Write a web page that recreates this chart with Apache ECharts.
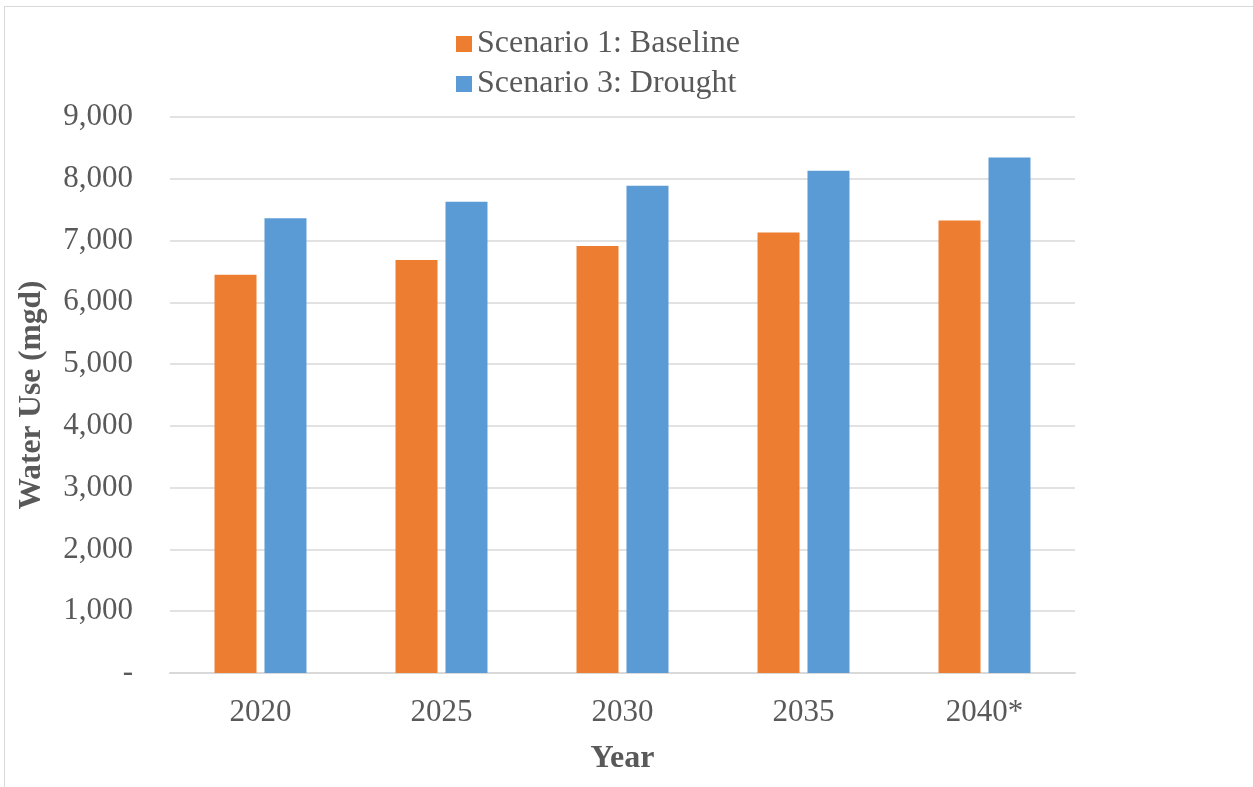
<!DOCTYPE html>
<html><head><meta charset="utf-8">
<script src="https://cdn.jsdelivr.net/npm/echarts@6/dist/echarts.min.js"></script>
<style>
html,body{margin:0;padding:0;background:#fff;overflow:hidden;width:1253px;height:787px;}
#wrap{position:relative;width:1253px;height:787px;overflow:hidden;}
#frame{position:absolute;left:4px;top:6px;width:1260px;height:800px;border:1.5px solid #d9d9d9;box-sizing:border-box;}
#c{position:absolute;left:0;top:0;width:1253px;height:787px;}
</style></head>
<body>
<div id="wrap">
<div id="frame"></div>
<div id="c"></div>
</div>
<script>
const categories = ['2020', '2025', '2030', '2035', '2040*'];
const baseline = [6447, 6684, 6913, 7129, 7323];
const drought = [7361, 7629, 7887, 8129, 8345];
const seriesNames = ['Scenario 1: Baseline', 'Scenario 3: Drought'];
const yTicks = {min: 0, max: 9000, interval: 1000};

const font = '"Liberation Serif", "Times New Roman", serif';
const chart = echarts.init(document.getElementById('c'));
chart.setOption({
  animation: false,
  textStyle: {fontFamily: font},
  legend: {
    orient: 'vertical', left: 451, top: 23, itemGap: 8,
    itemWidth: 16, itemHeight: 16, icon: 'rect', itemTextGap: 7,
    textStyle: {fontFamily: font, fontSize: 32, color: '#595959'},
    data: seriesNames
  },
  grid: {left: 170, right: 178, top: 117, bottom: 114, containLabel: false, outerBoundsMode: 'none'},
  xAxis: {
    type: 'category', data: categories,
    axisLine: {lineStyle: {color: '#d9d9d9', width: 2}},
    axisTick: {show: false},
    axisLabel: {fontFamily: font, fontSize: 31, color: '#595959', margin: 24},
    name: 'Year', nameLocation: 'middle', nameGap: 70,
    nameTextStyle: {fontFamily: font, fontSize: 32, fontWeight: 'bold', color: '#595959'}
  },
  yAxis: {
    type: 'value', min: yTicks.min, max: yTicks.max, interval: yTicks.interval,
    axisLine: {show: false}, axisTick: {show: false},
    splitLine: {lineStyle: {color: '#d9d9d9', width: 1.5}},
    axisLabel: {fontFamily: font, fontSize: 31, color: '#595959', margin: 37,
      formatter: v => v === 0 ? '-' : v.toLocaleString('en-US')},
    name: 'Water Use (mgd)', nameLocation: 'middle', nameGap: 122, nameRotate: 90,
    nameTextStyle: {fontFamily: font, fontSize: 31.5, fontWeight: 'bold', color: '#595959'}
  },
  series: [
    {name: seriesNames[0], type: 'bar', data: baseline, barWidth: 42, barGap: '19%',
     itemStyle: {color: '#ed7d31'}},
    {name: seriesNames[1], type: 'bar', data: drought, barWidth: 42, barGap: '19%',
     itemStyle: {color: '#5b9bd5'}}
  ]
});
</script>
</body></html>
